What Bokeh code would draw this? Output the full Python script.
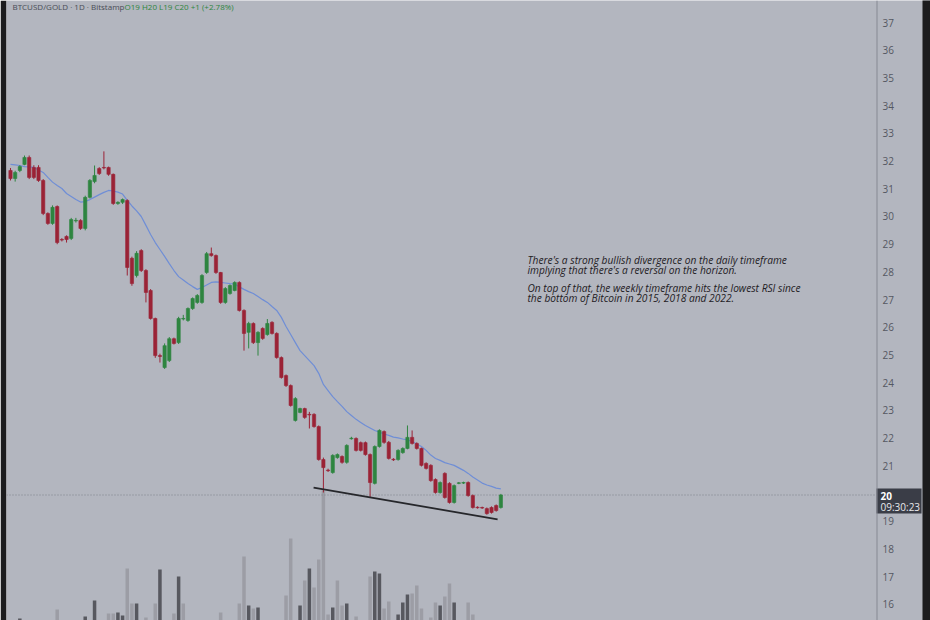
from bokeh.plotting import figure
from bokeh.models import Range1d, Span, ColumnDataSource
from bokeh.core.properties import value
from bokeh.embed import file_html
from bokeh.resources import INLINE

# ---- data (BTCUSD/GOLD, daily candles) ----
opens = [31.66, 31.37, 31.66, 31.88, 32.13, 31.77, 31.77, 31.30, 30.11, 29.75,
         30.36, 29.17, 29.28, 29.21, 29.84, 29.86, 29.57, 30.69, 31.26, 31.73,
         31.77, 31.77, 31.52, 30.47, 30.51, 30.58, 28.49, 27.87, 28.77, 28.05,
         27.33, 26.32, 24.98, 24.55, 24.80, 25.59, 25.45, 26.30, 26.25, 26.68,
         26.90, 26.90, 27.98, 28.66, 28.59, 27.98, 26.90, 27.22, 27.33, 27.62,
         26.61, 25.82, 26.14, 25.45, 25.96, 25.74, 26.18, 25.78, 24.91, 24.26,
         23.90, 22.64, 22.93, 23.07, 22.86, 22.86, 22.42, 21.23, 20.85, 20.76,
         21.30, 21.34, 21.13, 21.98, 21.99, 21.84, 21.84, 21.41, 20.37, 21.70,
         22.24, 21.85, 21.24, 21.23, 21.48, 21.63, 22.03, 21.81, 21.63, 21.09,
         21.02, 20.51, 20.04, 20.73, 20.37, 19.68, 20.37, 20.38, 20.40, 19.93,
         19.51, 19.50, 19.46, 19.50, 19.57, 19.50]
closes = [31.37, 31.59, 31.80, 32.13, 31.41, 31.41, 31.30, 30.11, 29.75, 30.33,
          29.06, 29.15, 29.17, 29.89, 29.86, 29.57, 30.69, 31.30, 31.48, 31.55,
          31.75, 31.52, 30.47, 30.51, 30.61, 28.16, 27.58, 28.67, 28.05, 27.26,
          26.32, 24.98, 24.95, 25.34, 25.59, 25.42, 26.32, 26.32, 26.68, 27.04,
          27.15, 27.87, 28.66, 28.59, 27.98, 26.90, 27.40, 27.51, 27.62, 26.61,
          25.78, 26.14, 25.45, 25.82, 25.60, 26.14, 25.78, 24.91, 24.19, 23.90,
          23.18, 23.43, 23.07, 22.75, 22.84, 22.42, 21.23, 20.94, 20.83, 21.38,
          21.41, 21.13, 21.74, 22.00, 21.56, 21.56, 21.41, 20.40, 21.70, 22.28,
          21.85, 21.27, 21.22, 21.56, 21.63, 22.03, 21.81, 21.63, 21.02, 20.91,
          20.47, 20.04, 20.40, 19.86, 19.68, 20.29, 20.39, 20.40, 19.93, 19.50,
          19.49, 19.48, 19.28, 19.32, 19.39, 19.95]
highs = [31.75, 31.65, 31.85, 32.20, 32.20, 31.85, 31.85, 31.35, 30.15, 30.40,
         30.40, 29.22, 29.32, 29.95, 29.95, 29.90, 30.75, 31.35, 31.84, 31.78,
         32.35, 31.80, 31.55, 30.55, 30.65, 30.62, 28.55, 28.75, 28.82, 28.10,
         27.38, 26.35, 25.05, 25.42, 25.65, 25.63, 26.38, 26.45, 26.72, 27.08,
         27.20, 27.92, 28.72, 28.88, 28.63, 28.00, 27.45, 27.55, 27.66, 27.66,
         26.65, 26.20, 26.18, 25.86, 26.00, 26.30, 26.22, 25.82, 24.95, 24.30,
         23.94, 23.48, 23.10, 23.10, 22.95, 22.90, 22.46, 21.30, 20.90, 21.42,
         21.45, 21.38, 21.78, 22.05, 22.03, 21.88, 21.88, 21.45, 21.74, 22.32,
         22.28, 21.90, 21.28, 21.60, 21.67, 22.46, 22.28, 21.85, 21.66, 21.13,
         21.06, 20.55, 20.44, 20.77, 20.41, 20.33, 20.42, 20.43, 20.44, 19.97,
         19.54, 19.53, 19.50, 19.54, 19.61, 19.99]
lows = [31.30, 31.26, 31.60, 31.85, 31.35, 31.35, 31.25, 30.05, 29.70, 29.70,
        29.00, 29.10, 29.06, 29.15, 29.78, 29.52, 29.50, 30.65, 31.20, 31.50,
        31.70, 31.47, 30.42, 30.42, 30.45, 27.87, 27.50, 27.80, 28.00, 26.90,
        26.28, 24.90, 24.73, 24.50, 24.75, 25.38, 25.40, 26.25, 26.20, 26.63,
        26.85, 26.85, 27.93, 28.55, 27.93, 26.85, 26.85, 27.18, 27.30, 26.57,
        25.16, 25.24, 25.40, 24.98, 25.55, 25.70, 25.74, 24.87, 24.15, 23.85,
        23.14, 22.60, 22.90, 22.70, 22.35, 22.38, 21.19, 20.04, 20.78, 20.72,
        21.26, 21.08, 21.08, 21.95, 21.52, 21.52, 21.37, 19.86, 20.33, 21.66,
        21.80, 21.23, 21.18, 21.19, 21.44, 21.60, 21.77, 21.59, 20.98, 20.87,
        20.43, 20.00, 20.00, 19.82, 19.64, 19.64, 20.34, 20.35, 19.89, 19.46,
        19.46, 19.45, 19.24, 19.28, 19.35, 19.46]
ma_line = [31.88, 31.86, 31.84, 31.80, 31.79, 31.77, 31.68, 31.59, 31.41, 31.24,
           31.12, 31.01, 30.83, 30.72, 30.61, 30.52, 30.54, 30.61, 30.70, 30.79,
           30.87, 30.94, 30.92, 30.88, 30.81, 30.58, 30.38, 30.20, 30.00, 29.68,
           29.35, 29.06, 28.81, 28.56, 28.30, 28.05, 27.83, 27.71, 27.58, 27.47,
           27.37, 27.44, 27.53, 27.62, 27.64, 27.62, 27.60, 27.58, 27.57, 27.46,
           27.37, 27.29, 27.22, 27.11, 27.00, 26.90, 26.75, 26.61, 26.36, 26.03,
           25.74, 25.45, 25.16, 24.98, 24.80, 24.62, 24.34, 23.94, 23.72, 23.50,
           23.32, 23.15, 22.96, 22.82, 22.68, 22.57, 22.46, 22.37, 22.28, 22.22,
           22.15, 22.10, 22.04, 22.01, 21.97, 21.94, 21.88, 21.79, 21.70, 21.56,
           21.39, 21.27, 21.20, 21.12, 21.07, 21.02, 20.93, 20.84, 20.73, 20.60,
           20.49, 20.38, 20.31, 20.26, 20.20, 20.17]
volume = [12, 14, 22, 12, 15, 13, 12, 16, 14, 13,
          31, 12, 14, 15, 12, 13, 24, 16, 40, 14,
          13, 27, 27, 28, 25, 72, 37, 37, 15, 23,
          16, 37, 71, 14, 15, 27, 64, 37, 13, 12,
          14, 16, 15, 13, 14, 28, 13, 12, 14, 37,
          84, 35, 32, 33, 14, 15, 13, 16, 17, 45,
          102, 16, 35, 60, 72, 53, 81, 150, 26, 33,
          60, 35, 37, 14, 24, 15, 16, 64, 69, 67,
          32, 39, 15, 26, 38, 46, 47, 55, 32, 16,
          23, 38, 35, 44, 57, 38, 15, 14, 38, 26,
          12, 13, 12, 14, 13, 15]
volume_shade = list("LLDLDDDDDL" "LDDLLDDLDD" "LLLDDLLDDL" "DLDLLLDLLL"
                    "LLLDDLLLLL" "LDLDDLDDDL" "LLDLDLLLLD" "LLDLLDDLDD"
                    "LLDDDDLLLD" "LLDLLDLLLL" "LLDDDL")
trend_idx = [65.9, 105.3]
trend_price = [20.22, 19.07]
last_price = 19.95
tag_lines = ["20", "09:30:23"]
price_ticks = list(range(16, 38))
tick_labels = [str(t) for t in price_ticks]
header_parts = ["BTCUSD/GOLD \u00b7 1D \u00b7 Bitstamp", "O19 H20 L19 C20 +1 (+2.78%)"]
note_lines = ["There's a strong bullish divergence on the daily timeframe",
              "implying that there's a reversal on the horizon.",
              "On top of that, the weekly timeframe hits the lowest RSI since",
              "the bottom of Bitcoin in 2015, 2018 and 2022."]

# ---- styles / layout ----
BG = "#b3b6bf"
UP = "#2e8540"
DOWN = "#9b2336"
VOL_LIGHT = "#9c9da5"
VOL_DARK = "#57585f"
EDGE = "#1c1c1e"
FONT = "Open Sans"
W, H = 930, 620
LEFT_EDGE = 6                     # dark strip at the left of the window (border)
X0, X1 = -1.1413, 198.0          # candle index range across the whole canvas width
Y0, Y1 = 15.422, 37.794          # price range across the canvas height


def px_x(px):
    return X0 + px * (X1 - X0) / W


def px_y(py):
    return Y1 - py * (Y1 - Y0) / H


n = len(opens)
idx = list(range(1, n + 1))
colors = [UP if c >= o else DOWN for o, c in zip(opens, closes)]
src = ColumnDataSource(dict(
    x=idx, o=opens, c=closes, h=highs, l=lows,
    top=[max(o, c) for o, c in zip(opens, closes)],
    bot=[min(o, c) for o, c in zip(opens, closes)],
    col=colors, vol=volume,
    vcol=[VOL_DARK if s == "D" else VOL_LIGHT for s in volume_shade],
))

p = figure(width=W, height=H, x_range=Range1d(px_x(LEFT_EDGE), X1),
           y_range=Range1d(Y0, Y1),
           output_backend="svg", toolbar_location=None,
           x_axis_location=None, y_axis_location=None,
           min_border_left=LEFT_EDGE, min_border_right=0, min_border_top=0,
           min_border_bottom=0, background_fill_color=BG, border_fill_color=EDGE,
           outline_line_color=None)
p.grid.visible = False
p.extra_y_ranges = {"vol": Range1d(20, 640)}

# dark right window edge
p.quad(left=[px_x(922)], right=[px_x(960)], top=[Y1 + 5], bottom=[Y0 - 5],
       fill_color=EDGE, line_color=None)

# volume bars (bottom band)
p.vbar(x="x", top="vol", bottom=0, width=0.75, fill_color="vcol",
       line_color=None, y_range_name="vol", source=src)

# last price line
p.segment(x0=[px_x(6)], y0=[last_price], x1=[px_x(876)], y1=[last_price],
          line_color="#7e818a", line_width=1, line_dash="1 2")

# moving average
p.line(idx, ma_line, line_color="#6f8ed6", line_width=1.2)

# candles
p.segment(x0="x", y0="h", x1="x", y1="l", line_color="col", line_width=1, source=src)
p.vbar(x="x", top="top", bottom="bot", width=0.7, fill_color="col",
       line_color="col", line_width=0.6, source=src)

# trend line
p.line(trend_idx, trend_price, line_color="#26272b", line_width=1.8)

# header
p.text(x=[px_x(12)], y=[px_y(0.5)], text=[header_parts[0]], text_font=value(FONT),
       text_font_size="8px", text_color="#4a4d56", text_baseline="top")
p.text(x=[px_x(124)], y=[px_y(0.5)], text=[header_parts[1]], text_font=value(FONT),
       text_font_size="8px", text_color=UP, text_baseline="top")

# note
note_y = [px_y(259), px_y(269), px_y(287), px_y(297)]
p.text(x=[px_x(527)] * 4, y=note_y, text=note_lines, text_font=value(FONT),
       text_font_size="10.2px", text_font_style="italic", text_color="#1f2024",
       text_baseline="middle", text_align="left")

# price scale (right side)
p.add_layout(Span(location=px_x(876.5), dimension="height",
                  line_color="#868993", line_width=1))
p.text(x=[px_x(882)] * len(price_ticks), y=price_ticks, text=tick_labels,
       text_font=value(FONT), text_font_size="10px", text_color="#555862",
       text_baseline="middle", text_align="left")

# last-price tag
p.quad(left=[px_x(876)], right=[px_x(921)], top=[px_y(488)], bottom=[px_y(513)],
       fill_color="#3a3d47", line_color=None)
p.text(x=[px_x(880)], y=[px_y(495)], text=[tag_lines[0]], text_font=value(FONT),
       text_font_size="10px", text_font_style="bold", text_color="#ffffff",
       text_baseline="middle", text_align="left")
p.text(x=[px_x(880)], y=[px_y(506.5)], text=[tag_lines[1]], text_font=value(FONT),
       text_font_size="10px", text_color="#e8e9ec",
       text_baseline="middle", text_align="left")

open("out.html", "w").write(file_html(p, INLINE))
